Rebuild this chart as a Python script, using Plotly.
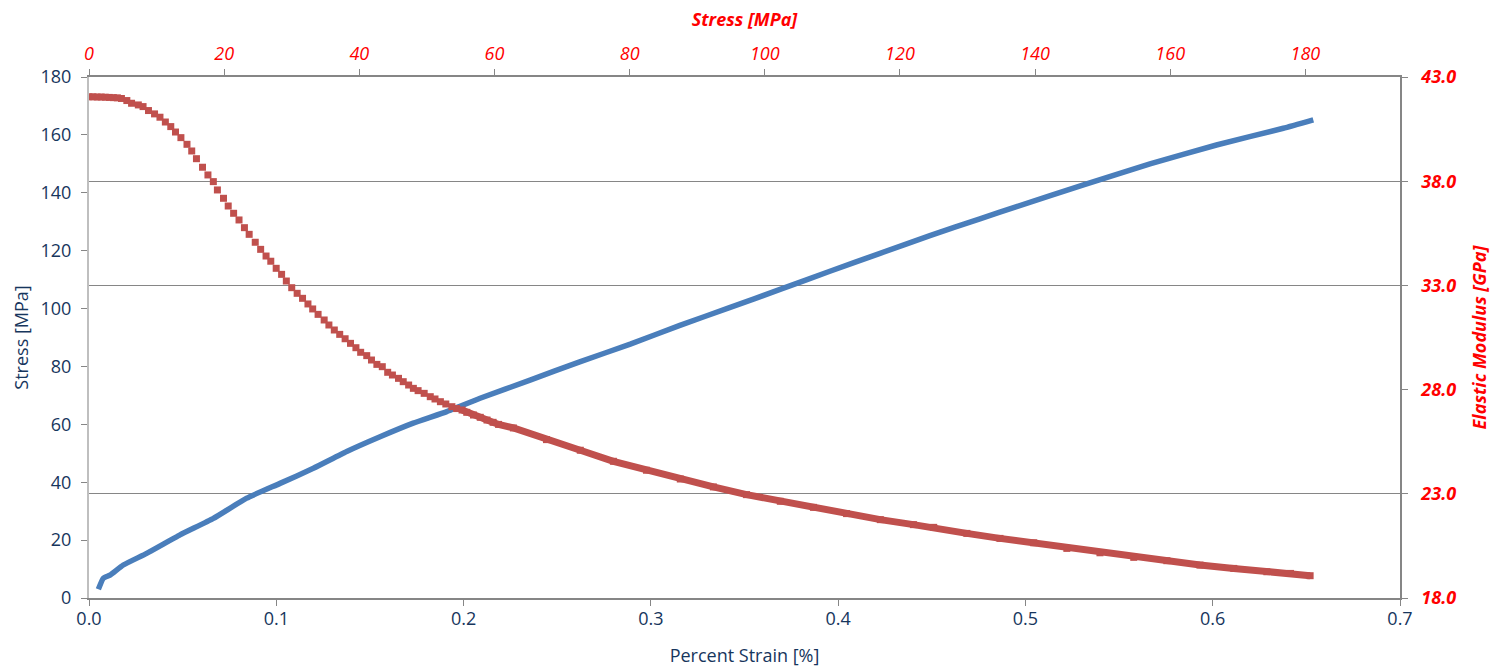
import plotly.graph_objects as go

# Blue series: Stress [MPa] vs Percent Strain [%]
strain = [0.005, 0.0076, 0.0112, 0.0183, 0.0308, 0.0486, 0.0664, 0.0842, 0.102, 0.1198,
          0.1376, 0.1554, 0.1731, 0.191, 0.2088, 0.2355, 0.262, 0.289, 0.3155,
          0.342, 0.369, 0.3956, 0.422, 0.449, 0.4757, 0.4953, 0.531, 0.5665, 0.602,
          0.6377, 0.6537]
stress_blue = [3.0, 6.8, 7.9, 11.4, 15.4, 21.8, 27.5, 34.5, 39.6, 44.8,
               50.6, 55.7, 60.4, 64.4, 69.0, 75.3, 81.6, 87.7, 94.2,
               100.3, 106.6, 112.9, 119.0, 125.2, 131.0, 135.2, 142.7, 150.0, 156.5,
               162.3, 165.2]

# Red series: Elastic Modulus [GPa] vs Stress [MPa]
stress_red = [0.0, 0.6, 1.2, 1.8, 2.4, 3.0, 3.6, 4.2, 4.8, 5.6, 6.3, 7.3, 8.0, 8.8, 9.7,
              10.5, 11.3, 12.1, 12.8, 13.6, 14.5, 15.2, 15.9, 16.8, 17.6, 18.4, 19.0,
              19.9, 20.6, 21.4, 22.2, 23.0, 23.7, 24.6, 25.4, 26.2, 26.9, 27.7, 28.5,
              29.2, 30.0, 30.8, 31.6, 32.4, 33.1, 33.9, 34.8, 35.5, 36.3, 37.1, 37.9,
              38.7, 39.5, 40.2, 41.1, 41.8, 42.6, 43.4, 44.2, 44.9, 45.8, 46.5, 47.3,
              48.0, 48.7, 49.6, 50.5, 51.2, 52.0, 52.8, 53.7, 54.4, 55.2, 55.9, 56.9,
              57.9, 58.9, 59.8, 60.6, 62.8, 67.7, 72.7, 77.6, 82.5, 87.5, 92.4, 97.3,
              102.3, 107.2, 112.1, 117.1, 122.0, 125.0, 129.9, 134.8, 139.8, 144.7,
              149.6, 154.6, 159.5, 164.4, 169.4, 174.3, 177.8, 180.7]
modulus = [42.05, 42.05, 42.04, 42.04, 42.03, 42.02, 42.01, 42.00, 41.97, 41.87, 41.74,
           41.66, 41.58, 41.39, 41.23, 41.07, 40.84, 40.62, 40.36, 40.09, 39.77, 39.45,
           39.08, 38.67, 38.30, 37.98, 37.58, 37.18, 36.81, 36.46, 36.14, 35.77, 35.45,
           35.07, 34.73, 34.41, 34.16, 33.82, 33.53, 33.21, 32.89, 32.62, 32.38, 32.11,
           31.87, 31.61, 31.34, 31.10, 30.86, 30.65, 30.44, 30.22, 30.01, 29.79, 29.63,
           29.42, 29.21, 29.10, 28.83, 28.70, 28.54, 28.38, 28.22, 28.06, 27.95, 27.82,
           27.66, 27.55, 27.42, 27.31, 27.18, 27.09, 27.02, 26.91, 26.78, 26.67, 26.54,
           26.43, 26.33, 26.16, 25.60, 25.09, 24.56, 24.13, 23.71, 23.33, 22.96, 22.64,
           22.35, 22.05, 21.76, 21.52, 21.39, 21.10, 20.86, 20.65, 20.38, 20.17, 19.95,
           19.79, 19.58, 19.42, 19.26, 19.18, 19.07]

grid_vals = [23, 33, 38]

BLUE = "#4A7EBB"
RED = "#C0504D"
NAVY = "#17365D"
FONT = "Open Sans"

fig = go.Figure()
fig.add_trace(go.Scatter(x=strain, y=stress_blue, mode="lines",
                         line=dict(color=BLUE, width=5.5, shape="spline", smoothing=0.4),
                         xaxis="x", yaxis="y", showlegend=False))
# dense tail band of the red series
tail = [i for i, s in enumerate(stress_red) if s >= 55]
fig.add_trace(go.Scatter(x=[stress_red[i] for i in tail], y=[modulus[i] for i in tail],
                         mode="lines", line=dict(color=RED, width=7),
                         xaxis="x2", yaxis="y2", showlegend=False, hoverinfo="skip"))
fig.add_trace(go.Scatter(x=stress_red, y=modulus, mode="markers",
                         marker=dict(symbol="square", size=7, color=RED),
                         xaxis="x2", yaxis="y2", showlegend=False))
fig.add_trace(go.Scatter(x=[], y=[], xaxis="x", yaxis="y3", showlegend=False))

tick_navy = dict(family=FONT, size=18, color=NAVY)
tick_red = dict(family=FONT, size=18, color="#FF0000", style="italic")
tick_red_b = dict(family=FONT, size=18, color="#FF0000", style="italic", weight="bold")

fig.update_layout(
    width=1491, height=669,
    margin=dict(l=89, r=91, t=77, b=71),
    paper_bgcolor="white", plot_bgcolor="white",
    font=dict(family=FONT),
    xaxis=dict(range=[0, 0.7], dtick=0.1, tickformat=".1f", showgrid=False, zeroline=False,
               automargin=False,
               showline=True, linecolor="#868686", linewidth=1.5,
               ticks="outside", ticklen=6, tickcolor="#868686",
               ticklabelstandoff=-2,
               tickfont=tick_navy,
               title=dict(text="Percent Strain [%]", font=dict(family=FONT, size=18, color=NAVY),
                          standoff=20)),
    xaxis2=dict(range=[0, 194], dtick=20, overlaying="x", side="top", anchor="y",
                automargin=False,
                showgrid=False, zeroline=False, showline=True, linecolor="#868686", linewidth=1.5,
                ticks="outside", ticklen=6, tickcolor="#868686",
                ticklabelstandoff=2,
                tickfont=tick_red,
                title=dict(text="Stress [MPa]", font=dict(family=FONT, size=18, color="#FF0000",
                                                            style="italic", weight="bold"),
                           standoff=10)),
    yaxis=dict(range=[0, 180], dtick=20, showgrid=False, zeroline=False,
               automargin=False,
               showline=True, linecolor="#BFBFBF", linewidth=2,
               ticks="outside", ticklen=6, tickcolor="#868686",
               ticklabelstandoff=6,
               tickfont=tick_navy,
               title=dict(text="Stress [MPa]", font=dict(family=FONT, size=18, color=NAVY),
                          standoff=7)),
    yaxis2=dict(range=[18, 43], tick0=18, dtick=5, tickformat=".1f", overlaying="y", side="right",
                anchor="x", showgrid=False, zeroline=False, showline=True,
                automargin=False,
                linecolor="#868686", linewidth=1.5,
                ticks="outside", ticklen=6, tickcolor="#868686",
                ticklabelstandoff=10,
                tickfont=tick_red_b,
                title=dict(text="Elastic Modulus [GPa]",
                           font=dict(family=FONT, size=18, color="#FF0000",
                                     style="italic", weight="bold"),
                           standoff=19)),
    yaxis3=dict(range=[18, 43], tickvals=grid_vals, overlaying="y", anchor="x",
                automargin=False,
                showticklabels=False, showgrid=True, gridcolor="#868686", gridwidth=1.2,
                zeroline=False, showline=False, ticks=""),
)

fig.write_html("out.html")
